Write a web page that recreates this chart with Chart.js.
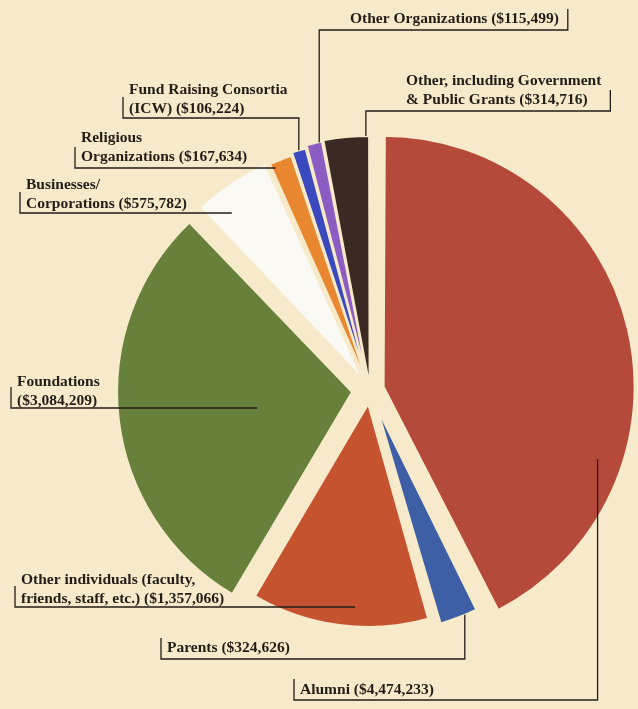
<!DOCTYPE html>
<html>
<head>
<meta charset="utf-8">
<title>Sources of gifts</title>
<script src="https://cdn.jsdelivr.net/npm/chart.js@4.4.1/dist/chart.umd.min.js"></script>
<style>
  html, body { margin: 0; padding: 0; background: #f6eacb; }
  #wrap { position: relative; width: 638px; height: 709px; }
</style>
</head>
<body>
<div id="wrap"><canvas id="gifts-chart"></canvas></div>
<script>
// categories, one entry per wedge (line breaks as in the printed labels)
const categories = [
  ['Alumni'],
  ['Parents'],
  ['Other individuals (faculty,', 'friends, staff, etc.)'],
  ['Foundations', ''],
  ['Businesses/', 'Corporations'],
  ['Religious', 'Organizations'],
  ['Fund Raising Consortia', '(ICW)'],
  ['Other Organizations'],
  ['Other, including Government', '& Public Grants'],
];
const amounts = [4474233, 324626, 1357066, 3084209, 575782, 167634, 106224, 115499, 314716];

const BG = '#f6eacb';
const INK = '#231d18';
const sliceColors = ['#b5493a', '#3e5ea6', '#c6532f', '#67803a', '#faf9f3', '#e8872f', '#3a49be', '#8b5dc2', '#3b2a23'];

// how far each wedge is pulled out (px) and the radius it is drawn with (px)
const pullOut = [14, 20, 14, 18, 12, 5, 5, 5, 4];
const wedgeRadius = [251, 224, 223, 235, 238, 242, 245, 248, 250];

// label placement: text origin, bracket side, rule y, leader landing (fraction of angle / radius)
const LINE_H = 19;
const labelSpots = [
  { x: 300, y: 694, side: 'left',  rule: 700, t: 0.71, r: 0.9,  drop: true },
  { x: 167, y: 652, side: 'left',  rule: 659, t: 0.35, r: 1.0,  drop: true },
  { x: 21,  y: 584, side: 'left',  rule: 607, t: 0.42, r: 0.9,  drop: false },
  { x: 17,  y: 386, side: 'left',  rule: 408, t: 0.46, r: 0.41, drop: false },
  { x: 26,  y: 189, side: 'left',  rule: 213, t: 0.3,  r: 0.9,  drop: false },
  { x: 81,  y: 142, side: 'left',  rule: 168, t: 0.1,  r: 0.96, drop: false },
  { x: 129, y: 94,  side: 'left',  rule: 118, t: 0.5,  r: 1.0,  drop: true },
  { x: 350, y: 23,  side: 'right', rule: 30,  t: 0.8,  r: 1.0,  drop: true },
  { x: 406, y: 85,  side: 'right', rule: 111, t: 0.92, r: 1.0,  drop: true },
];

const money = v => '($' + v.toLocaleString('en-US') + ')';

// set each wedge's radius after Chart.js lays the pie out
const wedgeShape = {
  id: 'wedgeShape',
  afterDatasetsUpdate(chart) {
    chart.getDatasetMeta(0).data.forEach((arc, i) => {
      const circ = arc.endAngle - arc.startAngle;
      const fix = 1 - Math.sin(Math.min(Math.PI, circ));
      arc.outerRadius = wedgeRadius[i] - pullOut[i] * fix;
    });
  }
};

const leaderLabels = {
  id: 'leaderLabels',
  afterDraw(chart) {
    const ctx = chart.ctx;
    const arcs = chart.getDatasetMeta(0).data;
    ctx.save();
    ctx.font = 'bold 15.5px "Liberation Serif"';
    ctx.fillStyle = INK;
    ctx.strokeStyle = INK;
    ctx.lineWidth = 1.3;
    ctx.textBaseline = 'alphabetic';

    labelSpots.forEach((s, i) => {
      const lines = categories[i].slice();
      const last = lines.length - 1;
      lines[last] = lines[last] ? lines[last] + ' ' + money(amounts[i]) : money(amounts[i]);
      let widest = 0;
      lines.forEach((txt, k) => {
        ctx.fillText(txt, s.x, s.y + k * LINE_H);
        widest = Math.max(widest, ctx.measureText(txt).width);
      });

      const arc = arcs[i];
      const mid = (arc.startAngle + arc.endAngle) / 2;
      const cx = arc.x + Math.cos(mid) * pullOut[i];
      const cy = arc.y + Math.sin(mid) * pullOut[i];
      const ang = arc.startAngle + (arc.endAngle - arc.startAngle) * s.t;
      const px = cx + Math.cos(ang) * wedgeRadius[i] * s.r;
      const py = cy + Math.sin(ang) * wedgeRadius[i] * s.r;

      const barX = s.side === 'left' ? s.x - 6 : s.x + widest + 9;
      ctx.beginPath();
      ctx.moveTo(barX, s.rule - 21);
      ctx.lineTo(barX, s.rule);
      ctx.lineTo(px, s.rule);
      if (s.drop) ctx.lineTo(px, py);
      ctx.stroke();
    });
    ctx.restore();
  }
};

new Chart(document.getElementById('gifts-chart'), {
  type: 'pie',
  data: {
    labels: categories.map(c => c.join(' ').trim()),
    datasets: [{
      data: amounts,
      backgroundColor: sliceColors,
      borderColor: BG,
      borderWidth: 2,
      borderJoinStyle: 'round',
      offset: pullOut.map(p => p * 4),
      clip: false,
    }]
  },
  options: {
    responsive: true,
    maintainAspectRatio: false,
    animation: false,
    radius: 224,
    layout: { padding: { left: 102, right: 0, top: 80, bottom: 9 } },
    plugins: {
      legend: { display: false },
      tooltip: { enabled: false },
    }
  },
  plugins: [wedgeShape, leaderLabels]
});
</script>
</body>
</html>
